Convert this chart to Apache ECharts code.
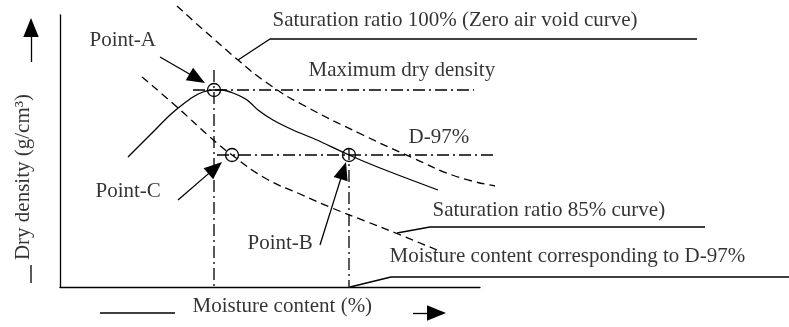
<!DOCTYPE html>
<html>
<head>
<meta charset="utf-8">
<script src="https://cdn.jsdelivr.net/npm/echarts@6/dist/echarts.min.js"></script>
<style>
  html, body { margin: 0; padding: 0; background: #fff; }
  #chart { width: 789px; height: 327px; }
</style>
</head>
<body>
<div id="chart"></div>
<script>
// Compaction test schematic: moisture content (x) against dry density (y),
// in drawing units with the origin at the corner of the two axes.

// Compaction curve (solid)
const compactionCurve = [[68,130],[90,152],[110,172],[122,182],[133,190],[143,195],[153,197],[162,197],[173,194],[187,187],[198,177],[213,167],[233,157],[257,147],[289,132],[320,119],[378,97]];
// Zero air void curve, saturation 100% (dashed)
const saturation100 = [[117,281],[178,227],[210,202],[243,182],[303,152],[353,129],[395,111],[435,101]];
// Saturation 85% curve (dashed)
const saturation85 = [[82,210],[117,180],[150,150],[172,132],[205,109],[240,93],[272,79],[305,66],[338,53],[377,37]];

// Key points on the curves
const pointA = [154, 197];   // maximum dry density
const pointB = [289, 132];   // D-97% on the wet side
const pointC = [172, 132];   // D-97% on the 85% saturation curve

// Reference lines
const maxDensityLine = [[133,197],[414,197]];
const d97Line = [[157,132],[437,132]];
const optimumMoistureLine = [[154,217],[154,0]];
const d97MoistureLine = [[289,139],[289,0]];

// Leader lines from captions to curves
const leader100 = [[178,227],[210,248],[637,248]];
const leader85 = [[337,54],[370,60],[645,60]];
const leaderMoisture = [[290,0],[331,10],[729,10]];

// Short bars beside the axis titles
const xTitleBar = [[40,-26],[115,-26]];
const yTitleBar = [[-29,22],[-29,4]];

// Arrows: [tail, tip]
const arrowsToPoints = [
  [[100,230],[145,204]],   // Point-A
  [[118,87],[162,125]],    // Point-C
  [[260,42],[286,125]]     // Point-B
];
const axisArrows = [
  [[-29,225],[-29,269]],   // dry density increases upward
  [[353,-26],[386,-26]]    // moisture content increases rightward
];

// Captions: text and anchor (left edge, vertical middle)
const captionTexts = ['Point-A', 'Saturation ratio 100% (Zero air void curve)', 'Maximum dry density', 'D-97%',
  'Point-C', 'Point-B', 'Saturation ratio 85% curve)', 'Moisture content corresponding to D-97%', 'Moisture content (%)'];
const captionAnchors = [[29,247],[212,267],[248,217],[348,150],[35,96],[187,44],[372,77],[329,31],[132,-19]];
const yTitle = 'Dry density (g/cm\u00B3)';
const yTitleCentre = [-37,110];

const FONT = '"Liberation Serif", "Times New Roman", serif';
const INK = '#000';
const LW = 1.3;
const DASHED = [8, 5];
const DASH_DOT = [12, 4, 2, 4];
// Solid arrowhead, tip pointing up before rotation
const HEAD = 'path://M0,0L6.5,16L-6.5,16Z';
const POINT_HEAD = 18;
const AXIS_HEAD = 19;

function path(name, data, type, smooth) {
  return {
    name, type: 'line', data, symbol: 'none', silent: true, animation: false,
    smooth: smooth || false, clip: false,
    lineStyle: { color: INK, width: LW, type: type || 'solid' },
    z: 3
  };
}

// The arrowhead symbol is centred on the line end, so pull the end back
// by half the head length to keep the tip on the target.
function arrowLine(seg, head) {
  const [t, p] = seg;
  const dx = p[0] - t[0], dy = p[1] - t[1];
  const len = Math.hypot(dx, dy);
  const end = [p[0] - dx / len * head / 2, p[1] - dy / len * head / 2];
  return [{ coord: t }, { coord: end }];
}

function arrowMarks(segs, head) {
  return {
    silent: true, animation: false,
    symbol: ['none', HEAD],
    symbolSize: head,
    symbolKeepAspect: true,
    label: { show: false },
    lineStyle: { color: INK, width: LW, type: 'solid' },
    itemStyle: { color: INK },
    data: segs.map(s => arrowLine(s, head))
  };
}

const chart = echarts.init(document.getElementById('chart'));

chart.setOption({
  backgroundColor: '#fff',
  animation: false,
  grid: [
    { left: 0, right: 0, top: 0, bottom: 0 },
    { left: 60, top: 15, width: 420, height: 272 }
  ],
  xAxis: [
    { gridIndex: 0, type: 'value', min: -60, max: 729, show: false },
    { gridIndex: 1, type: 'value', min: 0, max: 420,
      axisLine: { show: true, onZero: false, lineStyle: { color: INK, width: LW } },
      axisTick: { show: false }, axisLabel: { show: false }, splitLine: { show: false } }
  ],
  yAxis: [
    { gridIndex: 0, type: 'value', min: -40, max: 287, show: false },
    { gridIndex: 1, type: 'value', min: 0, max: 272,
      axisLine: { show: true, onZero: false, lineStyle: { color: INK, width: LW } },
      axisTick: { show: false }, axisLabel: { show: false }, splitLine: { show: false } }
  ],
  series: [
    path('compaction', compactionCurve, 'solid', 0.3),
    path('saturation 100%', saturation100, DASHED, 0.5),
    path('saturation 85%', saturation85, DASHED, 0.5),
    path('max dry density', maxDensityLine, DASH_DOT),
    path('D-97%', d97Line, DASH_DOT),
    path('optimum moisture', optimumMoistureLine, DASH_DOT),
    path('D-97% moisture', d97MoistureLine, DASH_DOT),
    path('leader 100%', leader100),
    path('leader 85%', leader85),
    path('leader moisture', leaderMoisture),
    Object.assign(path('x title bar', xTitleBar), { markLine: arrowMarks(axisArrows, AXIS_HEAD) }),
    Object.assign(path('y title bar', yTitleBar), { markLine: arrowMarks(arrowsToPoints, POINT_HEAD) }),
    {
      name: 'points', type: 'scatter', silent: true, animation: false, clip: false,
      data: [pointA, pointB, pointC],
      symbol: 'circle', symbolSize: 13,
      itemStyle: { color: 'rgba(0,0,0,0)', borderColor: INK, borderWidth: LW, opacity: 1 },
      z: 5
    },
    {
      name: 'captions', type: 'scatter', silent: true, animation: false, clip: false,
      symbolSize: 1, itemStyle: { color: 'rgba(0,0,0,0)' },
      data: captionTexts.map((t, i) => ({
        value: captionAnchors[i],
        label: { show: true, formatter: t, position: 'right', distance: 0 }
      })).concat([{
        value: yTitleCentre,
        label: { show: true, formatter: yTitle, position: 'inside', rotate: 90 }
      }]),
      label: { color: INK, fontFamily: FONT, fontSize: 21 },
      z: 6
    }
  ]
});
</script>
</body>
</html>
